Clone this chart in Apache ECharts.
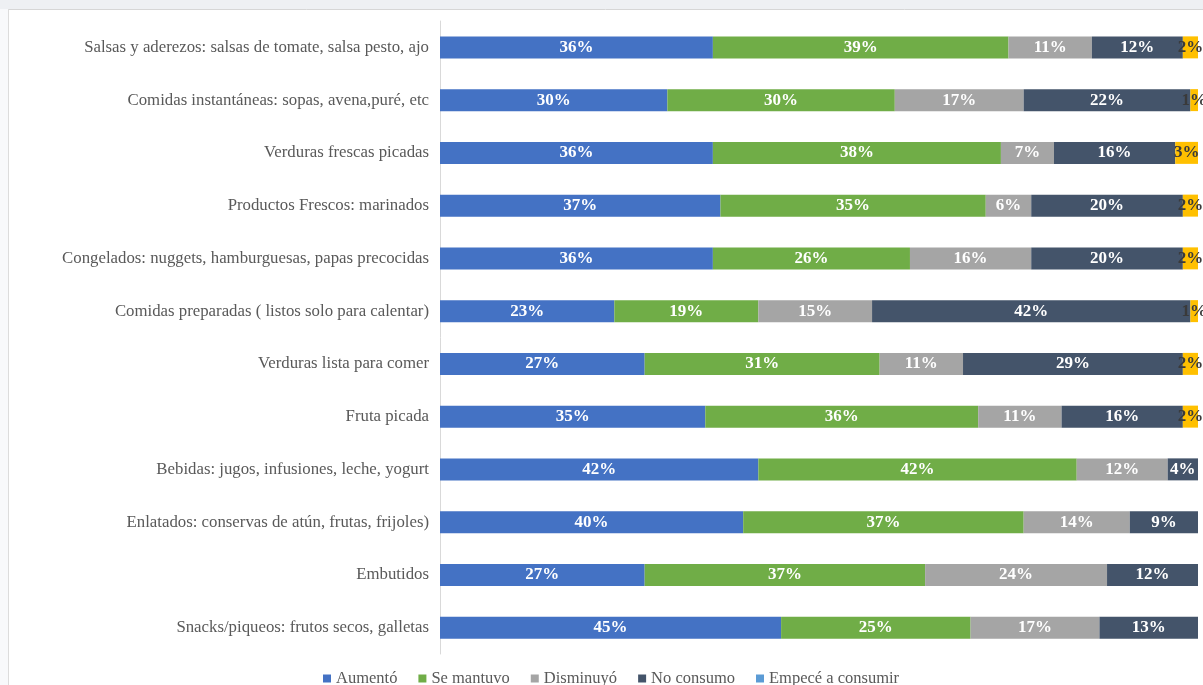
<!DOCTYPE html>
<html>
<head>
<meta charset="utf-8">
<script src="https://cdn.jsdelivr.net/npm/echarts@6/dist/echarts.min.js"></script>
<style>
  html, body { margin: 0; padding: 0; background: #ffffff; }
  #chart { width: 1203px; height: 685px; }
</style>
</head>
<body>
<div id="chart"></div>
<script>
// Categories, top to bottom
const categories = [
  'Salsas y aderezos: salsas de tomate, salsa pesto, ajo',
  'Comidas instantáneas: sopas, avena,puré, etc',
  'Verduras frescas picadas',
  'Productos Frescos: marinados',
  'Congelados: nuggets, hamburguesas, papas precocidas',
  'Comidas preparadas ( listos solo para calentar)',
  'Verduras lista para comer',
  'Fruta picada',
  'Bebidas: jugos, infusiones, leche, yogurt',
  'Enlatados: conservas de atún, frutas, frijoles)',
  'Embutidos',
  'Snacks/piqueos: frutos secos, galletas'
];

// Percentages per answer
const aumento     = [36, 30, 36, 37, 36, 23, 27, 35, 42, 40, 27, 45];
const seMantuvo   = [39, 30, 38, 35, 26, 19, 31, 36, 42, 37, 37, 25];
const disminuyo   = [11, 17,  7,  6, 16, 15, 11, 11, 12, 14, 24, 17];
const noConsumo   = [12, 22, 16, 20, 20, 42, 29, 16,  4,  9, 12, 13];
const empece      = [ 2,  1,  3,  2,  2,  1,  2,  2,  0,  0,  0, 0.3];

const seriesNames = ['Aumentó', 'Se mantuvo', 'Disminuyó', 'No consumo', 'Empecé a consumir'];
const seriesData  = [aumento, seMantuvo, disminuyo, noConsumo, empece];
const colors      = ['#4472C4', '#70AD47', '#A5A5A5', '#44546A', '#5B9BD5'];

const serif = '"Liberation Serif", "DejaVu Serif", serif';

function buildData(values, idx) {
  return values.map(v => {
    // whole-percent points of the last answer are highlighted in gold
    if (idx === 4 && v >= 1) {
      return { value: v, itemStyle: { color: '#FFC000' }, label: { color: '#3a3a3a' } };
    }
    return v;
  });
}

const chart = echarts.init(document.getElementById('chart'), null, { renderer: 'canvas' });

chart.setOption({
  backgroundColor: '#ffffff',
  animation: false,
  graphic: [
    { type: 'rect', shape: { x: 0, y: 0, width: 1203, height: 9 }, style: { fill: '#eef0f3' }, silent: true },
    { type: 'rect', shape: { x: 0, y: 9, width: 8, height: 676 }, style: { fill: '#f8f9fb' }, silent: true },
    { type: 'line', shape: { x1: 8, y1: 9.5, x2: 1203, y2: 9.5 }, style: { stroke: '#d6d6d6', lineWidth: 1 }, silent: true },
    { type: 'line', shape: { x1: 8.5, y1: 9, x2: 8.5, y2: 685 }, style: { stroke: '#dcdcdc', lineWidth: 1 }, silent: true }
  ],
  legend: {
    data: seriesNames,
    left: 318,
    top: 665,
    icon: 'rect',
    itemWidth: 8,
    itemHeight: 8,
    itemGap: 21,
    textStyle: { fontFamily: serif, fontSize: 16.5, color: '#595959' }
  },
  grid: { left: 440, right: 5, top: 21, bottom: 31, containLabel: false },
  xAxis: {
    type: 'value',
    min: 0,
    max: 100,
    show: false
  },
  yAxis: {
    type: 'category',
    data: categories,
    inverse: true,
    axisLine: { show: true, lineStyle: { color: '#d9d9d9', width: 1 } },
    axisTick: { show: false },
    axisLabel: { fontFamily: serif, fontSize: 16.8, color: '#595959', margin: 11 }
  },
  series: seriesNames.map((name, i) => ({
    name,
    type: 'bar',
    stack: 'total',
    barWidth: 22,
    itemStyle: { color: colors[i] },
    label: {
      show: true,
      position: 'inside',
      fontFamily: serif,
      fontWeight: 'bold',
      fontSize: 17,
      color: '#ffffff',
      formatter: p => (p.value >= 1 ? p.value + '%' : '')
    },
    data: buildData(seriesData[i], i)
  }))
});
</script>
</body>
</html>
